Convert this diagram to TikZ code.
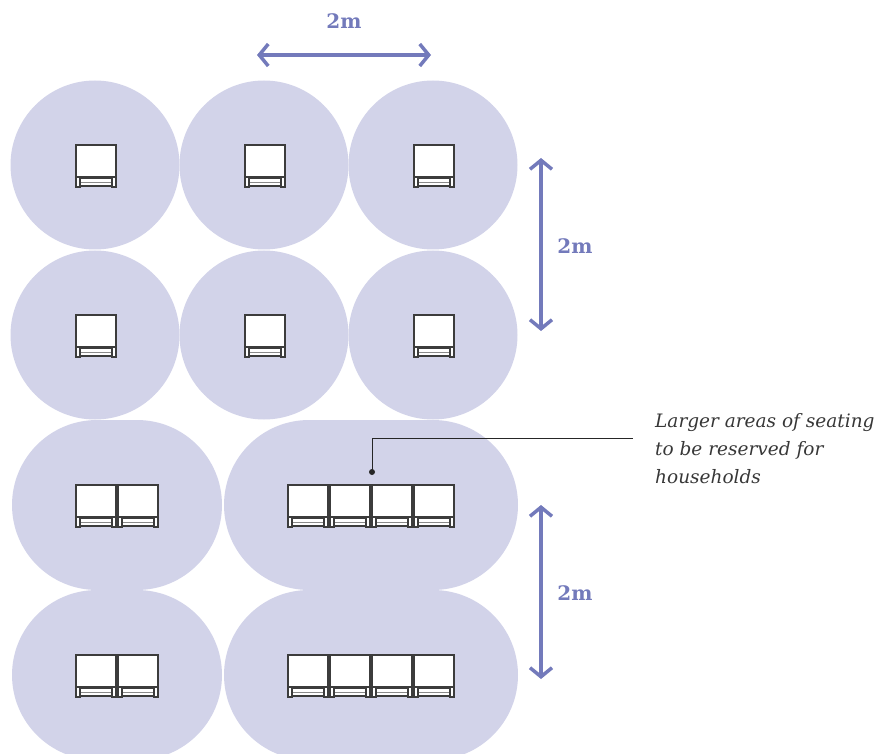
\documentclass[tikz,border=0pt]{standalone}
\usepackage{fontspec}
\newfontfamily\notefont{DejaVu Serif}
\usetikzlibrary{arrows.meta}
\definecolor{zonefill}{RGB}{210,211,233}
\definecolor{rulerblue}{RGB}{115,122,187}
\definecolor{notegray}{RGB}{55,55,55}
\definecolor{chairline}{RGB}{60,60,60}

\begin{document}
\begin{tikzpicture}[x=1pt, y=-1pt,
    zone/.style={fill=zonefill, inner sep=0pt},
    seat zone/.style={zone, circle, minimum size=169pt},
    pair zone/.style={zone, rectangle, rounded corners=85pt,
        minimum width=210pt, minimum height=170pt},
    group zone/.style={zone, rectangle, rounded corners=85pt,
        minimum width=294pt, minimum height=170pt},
    chair frame/.style={draw=chairline, line width=1.5pt, fill=white},
    chair/.pic={
        \draw [chair frame] (0,0) rectangle (40,32);
        \draw [chair frame] (4,33) rectangle (36,41);
        \draw [chairline!60, line width=0.8pt] (4,37) -- (36,37);
        \draw [chair frame] (0,32) rectangle (4,42);
        \draw [chair frame] (36,32) rectangle (40,42);
    },
    ruler/.style={draw=rulerblue, line width=3.5pt,
        {Straight Barb[length=9pt, width=22pt]}-{Straight Barb[length=9pt, width=22pt]}},
    ruler label/.style={text=rulerblue, font=\notefont\fontsize{20}{24}\selectfont\bfseries},
    note/.style={text=notegray, align=left, inner xsep=22pt, inner ysep=0pt,
        font=\notefont\fontsize{18.5}{28}\selectfont\itshape},
    leader/.style={draw=black!85, line width=0.9pt}
    ]
    \clip (0,0) rectangle (884,754);

    \node [seat zone] (zone 1a) at (95,165) {};
    \node [seat zone] (zone 1b) at (264,165) {};
    \node [seat zone] (zone 1c) at (433,165) {};
    \node [seat zone] (zone 2a) at (95,335) {};
    \node [seat zone] (zone 2b) at (264,335) {};
    \node [seat zone] (zone 2c) at (433,335) {};
    \node [pair zone] (zone 3a) at (117,505) {};
    \node [group zone] (zone 3b) at (371,505) {};
    \node [pair zone] (zone 4a) at (117,675) {};
    \node [group zone] (zone 4b) at (371,675) {};

    \pic at (76,145) {chair};
    \pic at (245,145) {chair};
    \pic at (414,145) {chair};
    \pic at (76,315) {chair};
    \pic at (245,315) {chair};
    \pic at (414,315) {chair};

    \pic at (76,485) {chair};
    \pic at (118,485) {chair};
    \pic at (288,485) {chair};
    \pic at (330,485) {chair};
    \pic at (372,485) {chair};
    \pic at (414,485) {chair};

    \pic at (76,655) {chair};
    \pic at (118,655) {chair};
    \pic at (288,655) {chair};
    \pic at (330,655) {chair};
    \pic at (372,655) {chair};
    \pic at (414,655) {chair};

    \coordinate (span left) at (257,55);
    \coordinate (span right) at (431,55);
    \draw [ruler] (span left) -- (span right);
    \node [ruler label] (span label) at (344,21) {2m};

    \coordinate (rows top) at (541,158);
    \coordinate (rows bottom) at (541,331);
    \draw [ruler] (rows top) -- (rows bottom);
    \node [ruler label] (rows label) at (575,246) {2m};

    \coordinate (benches top) at (541,505);
    \coordinate (benches bottom) at (541,679);
    \draw [ruler] (benches top) -- (benches bottom);
    \node [ruler label] (benches label) at (575,593) {2m};

    \node [note, anchor=north west] (note) at (633,413)
        {Larger areas of seating\\to be reserved for\\households};
    \coordinate (dot) at (372,472);
    \coordinate (bend) at (372,438);
    \fill [black!85] (dot) circle (3pt);
    \draw [leader] (dot) -- (bend) -- (bend -| note.west);
\end{tikzpicture}
\end{document}
